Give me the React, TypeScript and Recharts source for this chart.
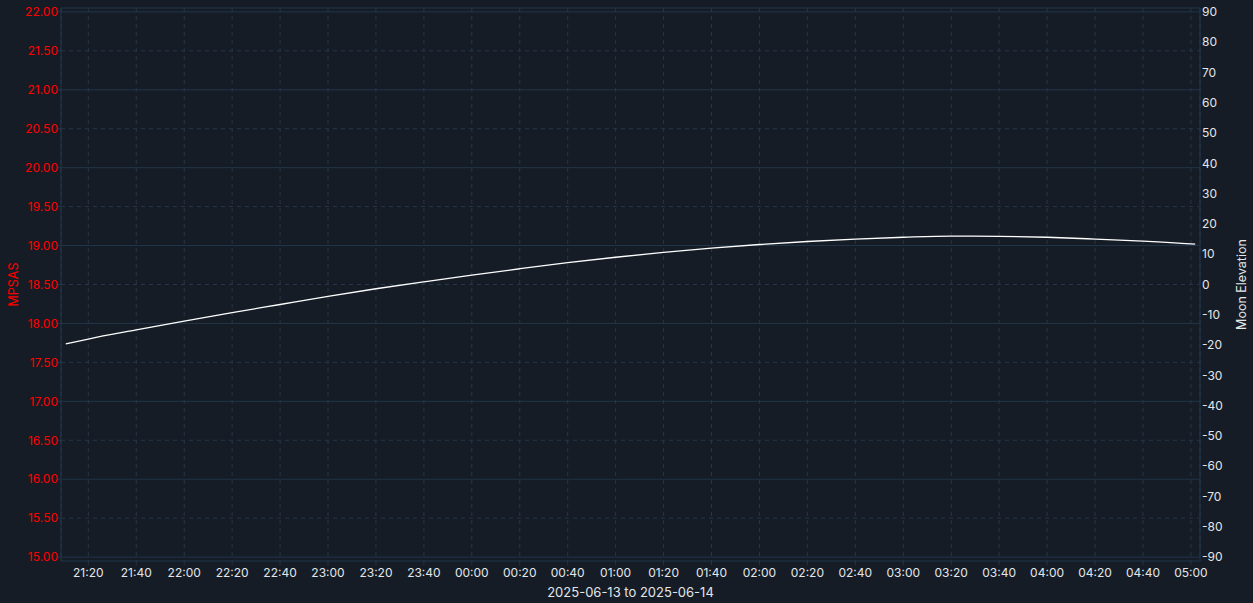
import React from "react"
import {
  CartesianGrid,
  Label,
  Line,
  LineChart,
  ReferenceLine,
  XAxis,
  YAxis,
} from "recharts"

// minutes after 21:00 on 2025-06-13
const minutesAfter2100 = [
  10.6, 20, 40, 60, 80, 100, 120, 140, 160, 180, 200, 220, 240, 260, 280, 300,
  320, 340, 360, 380, 400, 420, 440, 460, 480, 481.8,
]
const moonElevation = [
  -19.6, -18.0, -15.0, -12.1, -9.3, -6.6, -3.9, -1.4, 0.9, 3.1, 5.2, 7.2, 9.0,
  10.6, 12.0, 13.2, 14.2, 15.0, 15.6, 16.0, 15.9, 15.6, 15.0, 14.3, 13.4, 13.3,
]

const timeTicks = [
  20, 40, 60, 80, 100, 120, 140, 160, 180, 200, 220, 240, 260, 280, 300, 320,
  340, 360, 380, 400, 420, 440, 460, 480,
]
const mpsasTicks = [
  15, 15.5, 16, 16.5, 17, 17.5, 18, 18.5, 19, 19.5, 20, 20.5, 21, 21.5, 22,
]
const elevationTicks = [
  -90, -80, -70, -60, -50, -40, -30, -20, -10, 0, 10, 20, 30, 40, 50, 60, 70,
  80, 90,
]
const dateRange = "2025-06-13 to 2025-06-14"

const BG = "#151c25"
const GRID = "#22354a"
const GRID_DASH = "#25364a"
const TEXT = "#e3e6ea"
const FONT = "Inter, 'Noto Sans', sans-serif"

const data = minutesAfter2100.map((t, i) => ({ t, elev: moonElevation[i] }))

const mpsasPad = 0.05
const mpsasDomain = [15 - mpsasPad, 22 + mpsasPad]
const elevPad = (mpsasPad * 180) / 7
const elevDomain = [-90 - elevPad, 90 + elevPad]
const timeDomain = [
  minutesAfter2100[0] - 2,
  minutesAfter2100[minutesAfter2100.length - 1] + 2,
]

function fmtTime(m: number) {
  const total = (21 * 60 + Math.round(m)) % 1440
  const h = Math.floor(total / 60)
  const mm = total % 60
  return `${String(h).padStart(2, "0")}:${String(mm).padStart(2, "0")}`
}

export default function App() {
  return (
    <div
      style={{
        position: "absolute",
        left: 0,
        top: 0,
        width: 1253,
        height: 603,
        background: BG,
        fontFamily: FONT,
      }}
    >
      <LineChart
        width={1253}
        height={603}
        data={data}
        margin={{ top: 8, right: 0, bottom: 0, left: 0 }}
      >
        <CartesianGrid
          yAxisId="left"
          horizontal={false}
          stroke={GRID_DASH}
          strokeDasharray="4 4"
        />
        <XAxis
          type="number"
          dataKey="t"
          domain={timeDomain}
          ticks={timeTicks}
          interval={0}
          allowDataOverflow
          height={42}
          tickFormatter={fmtTime}
          stroke={GRID}
          tickSize={4}
          tickMargin={3}
          tick={{ fill: TEXT, fontSize: 12, fontFamily: FONT }}
        >
          <Label
            content={(p: any) => {
              const vb = p.viewBox
              return (
                <text
                  x={vb.x + vb.width / 2}
                  y={vb.y + 31}
                  textAnchor="middle"
                  dominantBaseline="central"
                  fill={TEXT}
                  fontSize={13}
                  fontFamily={FONT}
                >
                  {dateRange}
                </text>
              )
            }}
          />
        </XAxis>
        <YAxis
          yAxisId="left"
          type="number"
          domain={mpsasDomain}
          ticks={mpsasTicks}
          interval={0}
          allowDataOverflow
          width={61}
          tickFormatter={(v: number) => v.toFixed(2)}
          stroke={GRID}
          tickSize={3}
          tickMargin={0}
          tick={{ fill: "#ff0000", fontSize: 12, fontFamily: FONT }}
        >
          <Label
            content={(p: any) => {
              const vb = p.viewBox
              const cx = vb.x + 13
              const cy = vb.y + vb.height / 2
              return (
                <text
                  x={cx}
                  y={cy}
                  transform={`rotate(-90 ${cx} ${cy})`}
                  textAnchor="middle"
                  dominantBaseline="central"
                  fill="#ff0000"
                  fontSize={12.5}
                  fontFamily={FONT}
                >
                  MPSAS
                </text>
              )
            }}
          />
        </YAxis>
        <YAxis
          yAxisId="right"
          orientation="right"
          type="number"
          domain={elevDomain}
          ticks={elevationTicks}
          interval={0}
          allowDataOverflow
          width={53}
          stroke={GRID}
          tickLine={false}
          tickSize={2}
          tickMargin={0}
          tick={{ fill: TEXT, fontSize: 12, fontFamily: FONT, textAnchor: "start" }}
        >
          <Label
            content={(p: any) => {
              const vb = p.viewBox
              const cx = vb.x + 41
              const cy = vb.y + vb.height / 2
              return (
                <text
                  x={cx}
                  y={cy}
                  transform={`rotate(-90 ${cx} ${cy})`}
                  textAnchor="middle"
                  dominantBaseline="central"
                  fill={TEXT}
                  fontSize={12.5}
                  fontFamily={FONT}
                >
                  Moon Elevation
                </text>
              )
            }}
          />
        </YAxis>
        {mpsasTicks.map((v) => (
          <ReferenceLine
            key={v}
            yAxisId="left"
            y={v}
            stroke={Number.isInteger(v) ? GRID : GRID_DASH}
            strokeDasharray={Number.isInteger(v) ? undefined : "4 4"}
            ifOverflow="visible"
          />
        ))}
        <ReferenceLine
          yAxisId="left"
          y={mpsasDomain[1]}
          stroke={GRID}
          ifOverflow="visible"
        />
        <Line
          yAxisId="right"
          type="monotone"
          dataKey="elev"
          stroke="#ffffff"
          strokeWidth={1.3}
          dot={false}
          isAnimationActive={false}
        />
      </LineChart>
    </div>
  )
}
